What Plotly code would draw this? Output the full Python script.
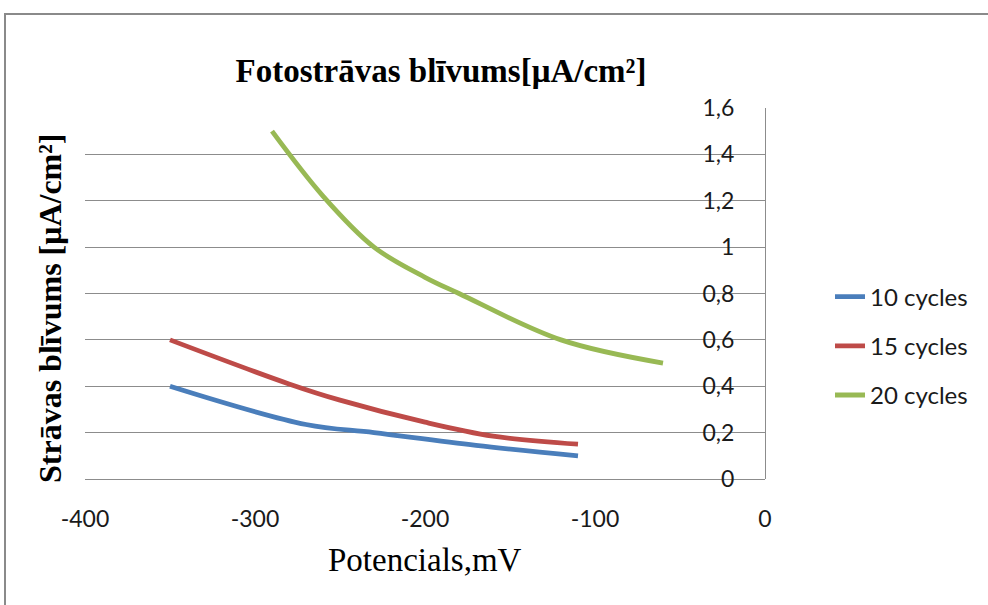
import plotly.graph_objects as go

# Potential (mV) and photocurrent density (uA/cm2) for each deposition count
x10 = [-350, -270, -230, -170, -110]
y10 = [0.40, 0.235, 0.20, 0.145, 0.10]

x15 = [-350, -280, -250, -200, -160, -110]
y15 = [0.60, 0.41, 0.34, 0.245, 0.185, 0.15]

x20 = [-290, -260, -230, -200, -180, -120, -60]
y20 = [1.50, 1.22, 1.00, 0.87, 0.80, 0.60, 0.50]

series_names = ["10 cycles", "15 cycles", "20 cycles"]
series_colors = ["#4A7EBB", "#BE4B48", "#98B954"]

x_ticks = [-400, -300, -200, -100, 0]
y_ticks = [0, 0.2, 0.4, 0.6, 0.8, 1.0, 1.2, 1.4, 1.6]
y_tick_text = ["0", "0,2", "0,4", "0,6", "0,8", "1", "1,2", "1,4", "1,6"]

W, H = 988, 605
L, R, T, B = 85, 765, 108, 479  # plot area in pixels

fig = go.Figure()
for name, xs, ys, col in zip(series_names, [x10, x15, x20], [y10, y15, y20], series_colors):
    fig.add_trace(go.Scatter(
        x=xs, y=ys, name=name, mode="lines",
        line=dict(color=col, width=4.8, shape="spline", smoothing=1.0),
        legendgroup=name,
    ))

grid = "#8C8C8C"
tick_font = dict(family="Lato, Carlito, sans-serif", size=23, color="#1A1A1A")
serif = "Liberation Serif, Times New Roman, serif"

fig.update_layout(
    width=W, height=H,
    margin=dict(l=L, r=W - R, t=T, b=H - B, pad=0),
    paper_bgcolor="white", plot_bgcolor="white",
    showlegend=True,
    legend=dict(
        x=(830 - L) / (R - L), y=(B - 346) / (B - T),
        xanchor="left", yanchor="middle",
        font=dict(family="Lato, Carlito, sans-serif", size=24, color="#1A1A1A"),
        tracegroupgap=15,
        bgcolor="rgba(0,0,0,0)",
    ),
    title=dict(
        text="Fotostrāvas blīvums[μA/cm²]",
        x=441 / W, xanchor="center",
        y=1 - 70 / H, yanchor="middle",
        font=dict(family=serif, size=33, color="black", weight="bold"),
    ),
    xaxis=dict(
        range=[-400, 0], tickvals=x_ticks, ticktext=[str(v) for v in x_ticks],
        showgrid=False, zeroline=False,
        showline=True, linecolor=grid, linewidth=1.2,
        ticks="", ticklabelstandoff=19, ticklabeloverflow="allow",
        tickfont=tick_font,
    ),
    # value axis sits at x = 0 (right edge of the plot), labels on its left
    yaxis=dict(
        range=[0, 1.6], tickvals=y_ticks, ticktext=y_tick_text,
        side="left", anchor="free", position=1.0,
        showgrid=True, gridcolor=grid, gridwidth=1.2,
        zeroline=False,
        showline=True, linecolor=grid, linewidth=1.2,
        ticks="", ticklabelstandoff=26, ticklabeloverflow="allow",
        tickfont=tick_font,
    ),
)

# Axis titles
fig.add_annotation(
    text="Strāvas blīvums [μA/cm²]", textangle=-90,
    xref="paper", yref="paper",
    x=(50 - L) / (R - L), y=(B - 308) / (B - T),
    xanchor="center", yanchor="middle", showarrow=False,
    font=dict(family=serif, size=32, color="black", weight="bold"),
)
fig.add_annotation(
    text="Potencials,mV",
    xref="paper", yref="paper",
    x=(425 - L) / (R - L), y=(B - 560) / (B - T),
    xanchor="center", yanchor="middle", showarrow=False,
    font=dict(family=serif, size=33, color="black"),
)

# Chart frame
fig.add_shape(
    type="rect", xref="paper", yref="paper",
    x0=(5 - L) / (R - L), x1=(1100 - L) / (R - L),
    y0=(B - 700) / (B - T), y1=(B - 14) / (B - T),
    line=dict(color="#8A8A8A", width=2), fillcolor="rgba(0,0,0,0)", layer="below",
)

fig.write_html("out.html")
